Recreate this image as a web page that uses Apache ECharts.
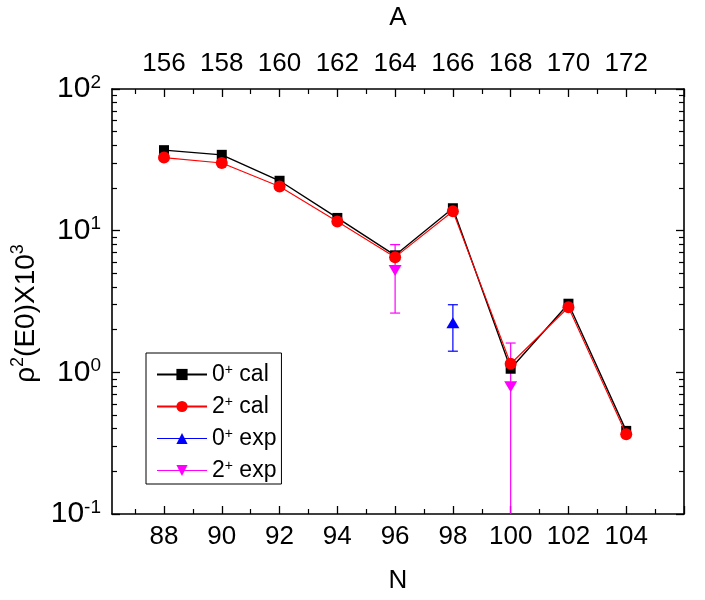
<!DOCTYPE html>
<html><head><meta charset="utf-8">
<script src="https://cdn.jsdelivr.net/npm/echarts@6/dist/echarts.min.js"></script>
<style>html,body{margin:0;padding:0;background:#fff}#c{width:705px;height:600px}</style>
</head><body><div id="c"></div>
<script>
// ---- data ----
const N = [88, 90, 92, 94, 96, 98, 100, 102, 104];
const cal0 = [37.0, 34.3, 22.5, 12.3, 6.7, 14.4, 1.06, 3.05, 0.386];
const cal2 = [32.8, 30.0, 20.5, 11.6, 6.5, 13.7, 1.15, 2.88, 0.366];
const exp0N = [98];
const exp0 = [2.24];
const exp0Lo = [1.41];
const exp0Hi = [3.0];
const exp2N = [96, 100];
const exp2 = [5.23, 0.79];
const exp2Lo = [2.62, 0];      // lower bound of N=100 lies below the axis
const exp2Hi = [7.97, 1.61];
const nTicks = [88, 90, 92, 94, 96, 98, 100, 102, 104, 106];
const nMinor = [87, 89, 91, 93, 95, 97, 99, 101, 103, 105];
const nLabels = ['88', '90', '92', '94', '96', '98', '100', '102', '104', ''];
const aLabels = ['156', '158', '160', '162', '164', '166', '168', '170', '172', ''];
const legendNames = ['0+ cal', '2+ cal', '0+ exp', '2+ exp'];
const X_MIN = 86.2, X_MAX = 106, Y_MIN = 0.1, Y_MAX = 100;

const F = 'Liberation Sans, Arial, Helvetica, sans-serif';
const FS = 26;
const chart = echarts.init(document.getElementById('c'));

const zip = (xs, ys) => xs.map((x, i) => [x, ys[i]]);
const errData = (xs, lo, hi) => xs.map((x, i) => [x, lo[i], hi[i]]);

function errRender(color) {
  return function (params, api) {
    const x = api.value(0);
    let lo = api.value(1), hi = api.value(2);
    const loClip = !(lo > Y_MIN);
    if (loClip) lo = Y_MIN;
    const p1 = api.coord([x, hi]);
    const p0 = api.coord([x, lo]);
    const w = 5;
    const st = { stroke: color, lineWidth: 1.2 };
    const children = [
      { type: 'line', shape: { x1: p1[0], y1: p1[1], x2: p0[0], y2: p0[1] }, style: st },
      { type: 'line', shape: { x1: p1[0] - w, y1: p1[1], x2: p1[0] + w, y2: p1[1] }, style: st }
    ];
    if (!loClip) children.push({ type: 'line', shape: { x1: p0[0] - w, y1: p0[1], x2: p0[0] + w, y2: p0[1] }, style: st });
    return { type: 'group', children };
  };
}

const baseX = {
  type: 'value', min: X_MIN, max: X_MAX, splitLine: { show: false },
  axisLine: { show: true, onZero: false, lineStyle: { color: '#000', width: 1.6 } },
  axisTick: { show: true, inside: true, length: 8, customValues: nTicks, lineStyle: { color: '#000', width: 1.3 } },
  axisLabel: { show: false }
};
const minorX = {
  type: 'value', min: X_MIN, max: X_MAX, splitLine: { show: false },
  axisLine: { show: false, onZero: false },
  axisTick: { show: true, inside: true, length: 5, customValues: nMinor, lineStyle: { color: '#000', width: 1.2 } },
  axisLabel: { show: false }
};
const baseY = {
  type: 'log', logBase: 10, min: Y_MIN, max: Y_MAX, splitLine: { show: false },
  axisLine: { show: true, onZero: false, lineStyle: { color: '#000', width: 1.6 } },
  axisTick: { show: true, inside: true, length: 8, lineStyle: { color: '#000', width: 1.3 } },
  minorTick: { show: true, splitNumber: 9, length: 5, lineStyle: { color: '#000', width: 1.2 } },
  axisLabel: { show: false }
};

chart.setOption({
  animation: false,
  backgroundColor: '#fff',
  grid: { left: 112, right: 21, top: 88, bottom: 86 },
  xAxis: [
    Object.assign({}, baseX, {
      position: 'bottom', name: 'N', nameLocation: 'middle', nameGap: 54,
      nameTextStyle: { color: '#000', fontSize: FS, fontFamily: F },
      axisLabel: {
        show: true, customValues: nTicks, margin: 10, color: '#000', fontSize: FS, fontFamily: F,
        formatter: v => nLabels[nTicks.indexOf(v)] || ''
      }
    }),
    Object.assign({}, minorX, { position: 'bottom' }),
    Object.assign({}, baseX, {
      position: 'top', name: 'A', nameLocation: 'middle', nameGap: 58,
      nameTextStyle: { color: '#000', fontSize: FS, fontFamily: F },
      axisLabel: {
        show: true, customValues: nTicks, margin: 12, color: '#000', fontSize: FS, fontFamily: F,
        formatter: v => aLabels[nTicks.indexOf(v)] || ''
      }
    }),
    Object.assign({}, minorX, { position: 'top' })
  ],
  yAxis: [
    Object.assign({}, baseY, {
      position: 'left',
      name: '{n|ρ}{s|2}{n|(E0)X10}{s|3}', nameLocation: 'middle', nameGap: 62, nameRotate: 90,
      nameTextStyle: {
        color: '#000', fontFamily: F, fontSize: 28, padding: [0, 24, 0, 0],
        rich: {
          n: { fontSize: 28, fontFamily: F, color: '#000', lineHeight: 34 },
          s: { fontSize: 18, fontFamily: F, color: '#000', verticalAlign: 'top', lineHeight: 34 }
        }
      },
      axisLabel: {
        show: true, margin: 11, color: '#000', fontSize: 30, fontFamily: F,
        formatter: v => '{b|10}{s|' + Math.round(Math.log10(v)) + '}',
        rich: {
          b: { fontSize: 30, fontFamily: F, color: '#000', lineHeight: 32 },
          s: { fontSize: 19, fontFamily: F, color: '#000', verticalAlign: 'top', lineHeight: 32 }
        }
      }
    }),
    Object.assign({}, baseY, { position: 'right' })
  ],
  legend: {
    left: 146, top: 353, orient: 'vertical',
    itemWidth: 50, itemHeight: 14, itemGap: 9,
    padding: [10, 5, 2, 10],
    borderColor: '#000', borderWidth: 1, backgroundColor: '#fff',
    selectedMode: false,
    data: [
      { name: legendNames[0] },
      { name: legendNames[1] },
      { name: legendNames[2], lineStyle: { opacity: 1, width: 1.2, color: '#0000ff' } },
      { name: legendNames[3], lineStyle: { opacity: 1, width: 1.2, color: '#ff00ff' } }
    ],
    formatter: name => {
      const parts = name.split('+');
      return '{n|' + parts[0] + '}{s|+}{n|' + parts[1] + '}';
    },
    textStyle: {
      color: '#000', fontFamily: F, fontSize: 23, lineHeight: 23,
      rich: {
        n: { fontSize: 23, fontFamily: F, color: '#000', lineHeight: 23 },
        s: { fontSize: 14, fontFamily: F, color: '#000', verticalAlign: 'top', lineHeight: 23 }
      }
    }
  },
  series: [
    {
      type: 'custom', name: 'err0', xAxisIndex: 0, yAxisIndex: 0, z: 1,
      renderItem: errRender('#0000ff'), data: errData(exp0N, exp0Lo, exp0Hi), silent: true
    },
    {
      type: 'custom', name: 'err2', xAxisIndex: 0, yAxisIndex: 0, z: 1,
      renderItem: errRender('#ff00ff'), data: errData(exp2N, exp2Lo, exp2Hi), silent: true
    },
    {
      name: legendNames[0], type: 'line', xAxisIndex: 0, yAxisIndex: 0, z: 2,
      data: zip(N, cal0), symbol: 'rect', symbolSize: 10,
      itemStyle: { color: '#000' }, lineStyle: { color: '#000', width: 1.4 }
    },
    {
      name: legendNames[1], type: 'line', xAxisIndex: 0, yAxisIndex: 0, z: 3,
      data: zip(N, cal2), symbol: 'circle', symbolSize: 12,
      itemStyle: { color: '#ff0000' }, lineStyle: { color: '#ff0000', width: 1.1 }
    },
    {
      name: legendNames[2], type: 'line', xAxisIndex: 0, yAxisIndex: 0, z: 4,
      data: zip(exp0N, exp0), symbol: 'triangle', symbolSize: [13, 11],
      itemStyle: { color: '#0000ff' }, lineStyle: { color: '#0000ff', width: 1.2, opacity: 0 }
    },
    {
      name: legendNames[3], type: 'line', xAxisIndex: 0, yAxisIndex: 0, z: 4,
      data: zip(exp2N, exp2), symbol: 'triangle', symbolRotate: 180, symbolSize: [13, 11],
      itemStyle: { color: '#ff00ff' }, lineStyle: { color: '#ff00ff', width: 1.2, opacity: 0 }
    }
  ]
});
</script>
</body></html>
